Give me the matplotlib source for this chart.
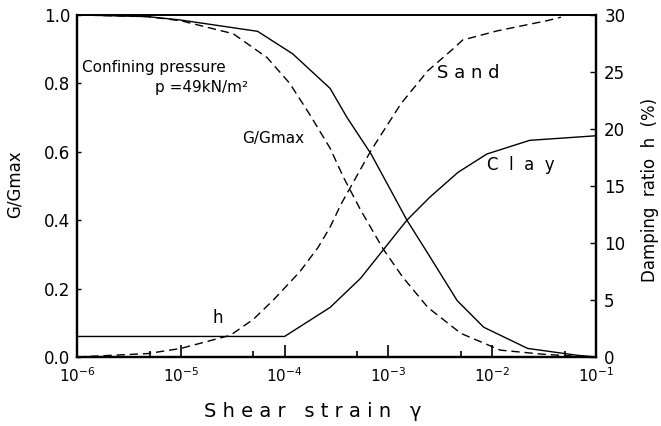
import matplotlib
matplotlib.use("Agg")

import matplotlib.pyplot as plt

# shear modulus ratio G/Gmax against shear strain
clay_g_strain = [1e-6, 4.8e-6, 1e-5, 5.5e-5, 1.2e-4, 2.75e-4, 4.0e-4, 6.8e-4,
                 1.23e-3, 1.51e-3, 2.4e-3, 4.6e-3, 8.3e-3, 2.2e-2, 6.6e-2, 1e-1]
clay_g = [1.0, 0.995, 0.985, 0.952, 0.886, 0.785, 0.70, 0.594,
          0.45, 0.40, 0.303, 0.165, 0.087, 0.025, 0.005, 0.0]

sand_g_strain = [1e-6, 4.8e-6, 1e-5, 3.2e-5, 6.8e-5, 1.12e-4, 1.74e-4, 2.75e-4, 3.7e-4,
                 5.4e-4, 8.9e-4, 1.38e-3, 2.4e-3, 5.0e-3, 1.2e-2, 3.1e-2, 6.6e-2, 1e-1]
sand_g = [1.0, 0.995, 0.983, 0.945, 0.875, 0.80, 0.71, 0.61, 0.525,
          0.43, 0.316, 0.233, 0.145, 0.069, 0.02, 0.008, 0.002, 0.0]

# damping ratio h (%)
clay_h_strain = [1e-6, 1e-4, 2.75e-4, 5.4e-4, 1.51e-3, 2.5e-3, 4.7e-3, 8.9e-3, 2.3e-2, 1e-1]
clay_h = [1.8, 1.8, 4.35, 6.9, 12.0, 14.0, 16.2, 17.8, 19.0, 19.4]

sand_h_strain = [1e-6, 4.8e-6, 1e-5, 3.0e-5, 5.0e-5, 7.8e-5, 1.41e-4, 2.1e-4, 2.75e-4, 3.5e-4,
                 6.8e-4, 1.32e-3, 2.4e-3, 4.3e-3, 5.2e-3, 1.12e-2, 3.4e-2, 4.6e-2]
sand_h = [0.0, 0.3, 0.75, 1.9, 3.3, 5.0, 7.5, 9.6, 11.4, 13.4,
          18.1, 22.2, 25.1, 27.1, 27.8, 28.6, 29.5, 29.8]

x_ticks = [1e-6, 1e-5, 1e-4, 1e-3, 1e-2, 1e-1]
x_labels = [r"$10^{-6}$", r"$10^{-5}$", r"$10^{-4}$", r"$10^{-3}$", r"$10^{-2}$", r"$10^{-1}$"]
x_minor = [5e-6, 5e-5, 5e-4, 5e-3, 5e-2]
g_ticks = [0.0, 0.2, 0.4, 0.6, 0.8, 1.0]
h_ticks = [0, 5, 10, 15, 20, 25, 30]

plt.rcParams["font.family"] = ["DejaVu Sans"]
plt.rcParams["mathtext.fontset"] = "dejavusans"

fig = plt.figure(figsize=(6.61, 4.26), dpi=100)
ax = fig.add_axes([0.1165, 0.162, 0.785, 0.803])
ax2 = ax.twinx()

dash = (6, 3.5)
ax.plot(clay_g_strain, clay_g, color="black", lw=1.0)
ax.plot(sand_g_strain, sand_g, color="black", lw=1.0, dashes=dash)
ax2.plot(clay_h_strain, clay_h, color="black", lw=1.0)
ax2.plot(sand_h_strain, sand_h, color="black", lw=1.0, dashes=dash)

ax.set_xscale("log")
ax.set_xlim(1e-6, 1e-1)
ax.set_ylim(0, 1.0)
ax2.set_ylim(0, 30)

ax.set_xticks(x_ticks)
ax.set_xticklabels(x_labels, fontsize=11)
ax.set_xticks(x_minor, minor=True)
ax.set_xticklabels([], minor=True)
ax.tick_params(axis="x", which="major", direction="in", length=9, width=1.2, pad=7)
ax.tick_params(axis="x", which="minor", direction="in", length=4, width=1.2)

ax.set_yticks(g_ticks)
ax.set_yticklabels(["%.1f" % v for v in g_ticks], fontsize=12)
ax.tick_params(axis="y", direction="in", length=3, width=1.0, pad=5)

ax2.set_yticks(h_ticks)
ax2.set_yticklabels([str(v) for v in h_ticks], fontsize=12,
                    family=["Liberation Sans Narrow", "DejaVu Sans"])
ax2.tick_params(axis="y", direction="in", length=4, width=1.0, pad=6)

for a in (ax, ax2):
    for side in ("left", "right", "bottom"):
        a.spines[side].set_linewidth(1.6)
    a.spines["top"].set_linewidth(1.2)

# axis titles
fig.text(0.022, 0.567, "G/Gmax", rotation=90, ha="center", va="center", fontsize=12)
fig.text(0.983, 0.554, "Damping  ratio  h  (%)", rotation=90, ha="center", va="center",
         fontsize=12)
fig.text(0.473, 0.033, "S h e a r   s t r a i n   γ", ha="center", va="center", fontsize=14)

# curve annotations
ax.text(1.12e-6, 0.845, "Confining pressure", fontsize=11, va="center")
ax.text(5.7e-6, 0.787, "p =49kN/m²", fontsize=11, va="center")
ax.text(3.9e-5, 0.64, "G/Gmax", fontsize=11, va="center")
ax.text(2.95e-3, 0.83, "S a n d", fontsize=13, va="center")
ax.text(8.9e-3, 0.56, "C  l  a  y", fontsize=12, va="center")
ax.text(2.25e-5, 0.115, "h", fontsize=12, va="center", ha="center")

fig.savefig("out.png", dpi=100)
